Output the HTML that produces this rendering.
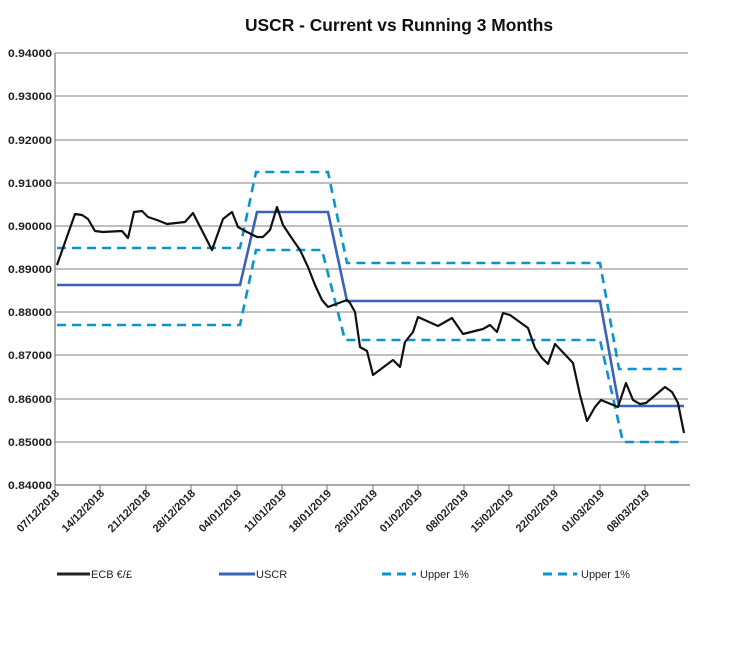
<!DOCTYPE html>
<html><head><meta charset="utf-8"><style>
body{margin:0;background:#fff;}
svg{display:block;font-family:"Liberation Sans",sans-serif;}
</style></head><body>
<svg width="730" height="657" viewBox="0 0 730 657">
<text x="399" y="31" text-anchor="middle" font-size="17.5" font-weight="bold" fill="#111" textLength="308" lengthAdjust="spacingAndGlyphs">USCR - Current vs Running 3 Months</text>
<g stroke="#9a9a9a" stroke-width="1.2">
<line x1="55" y1="53" x2="688" y2="53"/><line x1="55" y1="96" x2="688" y2="96"/><line x1="55" y1="140" x2="688" y2="140"/><line x1="55" y1="183" x2="688" y2="183"/><line x1="55" y1="226" x2="688" y2="226"/><line x1="55" y1="269" x2="688" y2="269"/><line x1="55" y1="312" x2="688" y2="312"/><line x1="55" y1="355" x2="688" y2="355"/><line x1="55" y1="399" x2="688" y2="399"/><line x1="55" y1="442" x2="688" y2="442"/>
</g>
<line x1="55" y1="53" x2="55" y2="485" stroke="#777" stroke-width="1.2"/>
<line x1="55" y1="485" x2="690" y2="485" stroke="#777" stroke-width="1.2"/>
<g stroke="#777" stroke-width="1">
<line x1="55" y1="485" x2="55" y2="490"/><line x1="100" y1="485" x2="100" y2="490"/><line x1="146" y1="485" x2="146" y2="490"/><line x1="191" y1="485" x2="191" y2="490"/><line x1="237" y1="485" x2="237" y2="490"/><line x1="282" y1="485" x2="282" y2="490"/><line x1="327" y1="485" x2="327" y2="490"/><line x1="373" y1="485" x2="373" y2="490"/><line x1="418" y1="485" x2="418" y2="490"/><line x1="464" y1="485" x2="464" y2="490"/><line x1="509" y1="485" x2="509" y2="490"/><line x1="554" y1="485" x2="554" y2="490"/><line x1="600" y1="485" x2="600" y2="490"/><line x1="645" y1="485" x2="645" y2="490"/>
</g>
<g font-size="11" font-weight="bold" fill="#222" text-anchor="end">
<text x="52" y="57" textLength="44" lengthAdjust="spacingAndGlyphs">0.94000</text><text x="52" y="100" textLength="44" lengthAdjust="spacingAndGlyphs">0.93000</text><text x="52" y="144" textLength="44" lengthAdjust="spacingAndGlyphs">0.92000</text><text x="52" y="187" textLength="44" lengthAdjust="spacingAndGlyphs">0.91000</text><text x="52" y="230" textLength="44" lengthAdjust="spacingAndGlyphs">0.90000</text><text x="52" y="273" textLength="44" lengthAdjust="spacingAndGlyphs">0.89000</text><text x="52" y="316" textLength="44" lengthAdjust="spacingAndGlyphs">0.88000</text><text x="52" y="359" textLength="44" lengthAdjust="spacingAndGlyphs">0.87000</text><text x="52" y="403" textLength="44" lengthAdjust="spacingAndGlyphs">0.86000</text><text x="52" y="446" textLength="44" lengthAdjust="spacingAndGlyphs">0.85000</text><text x="52" y="489" textLength="44" lengthAdjust="spacingAndGlyphs">0.84000</text>
</g>
<g font-size="11" font-weight="bold" fill="#222" text-anchor="end">
<text transform="translate(60,494) rotate(-45)">07/12/2018</text>
<text transform="translate(105,494) rotate(-45)">14/12/2018</text>
<text transform="translate(151,494) rotate(-45)">21/12/2018</text>
<text transform="translate(196,494) rotate(-45)">28/12/2018</text>
<text transform="translate(242,494) rotate(-45)">04/01/2019</text>
<text transform="translate(287,494) rotate(-45)">11/01/2019</text>
<text transform="translate(332,494) rotate(-45)">18/01/2019</text>
<text transform="translate(378,494) rotate(-45)">25/01/2019</text>
<text transform="translate(423,494) rotate(-45)">01/02/2019</text>
<text transform="translate(469,494) rotate(-45)">08/02/2019</text>
<text transform="translate(514,494) rotate(-45)">15/02/2019</text>
<text transform="translate(559,494) rotate(-45)">22/02/2019</text>
<text transform="translate(605,494) rotate(-45)">01/03/2019</text>
<text transform="translate(650,494) rotate(-45)">08/03/2019</text>
</g>
<g fill="none" stroke="#0a93d1" stroke-width="2.6" stroke-dasharray="9,6">
<polyline points="57,248 240,248 256,172 328,172 347,263 600,263 619,369 684,369"/>
<polyline points="57,325 240,325 256,250 322,250 345,340 600,340 623,442 684,442"/>
</g>
<polyline fill="none" stroke="#3a62b8" stroke-width="2.6" points="57,285 240,285 257,212 328,212 347,301 600,301 619,406 684,406"/>
<polyline fill="none" stroke="#111" stroke-width="2.2" stroke-linejoin="round" points="57,265 75,214 82,215 88,219 95,231 103,232 122,231 128,238 134,212 142,211 148,217 157,220 167,224 185,222 193,213 212,250 223,219 232,212 238,227 247,232 257,237 263,237 270,230 277,207 283,225 293,240 300,250 308,267 315,285 322,300 328,307 347,300 350,303 355,312 360,347 367,351 373,375 393,360 400,367 405,342 413,332 418,317 438,326 452,318 463,334 483,329 490,325 497,332 503,313 510,315 528,328 535,348 542,358 548,364 555,344 573,363 580,395 587,421 595,407 601,400 618,407 626,383 633,400 640,404 646,403 665,387 672,392 678,403 684,433"/>
<g font-size="11" fill="#222">
<line x1="57" y1="574" x2="90" y2="574" stroke="#222" stroke-width="3"/><text x="91" y="578">ECB €/£</text>
<line x1="219" y1="574" x2="255" y2="574" stroke="#3a62b8" stroke-width="3"/><text x="256" y="578">USCR</text>
<line x1="382" y1="574" x2="416" y2="574" stroke="#0a93d1" stroke-width="3" stroke-dasharray="9,6"/><text x="420" y="578">Upper 1%</text>
<line x1="543" y1="574" x2="577" y2="574" stroke="#0a93d1" stroke-width="3" stroke-dasharray="9,6"/><text x="581" y="578">Upper 1%</text>
</g>
</svg>
</body></html>
